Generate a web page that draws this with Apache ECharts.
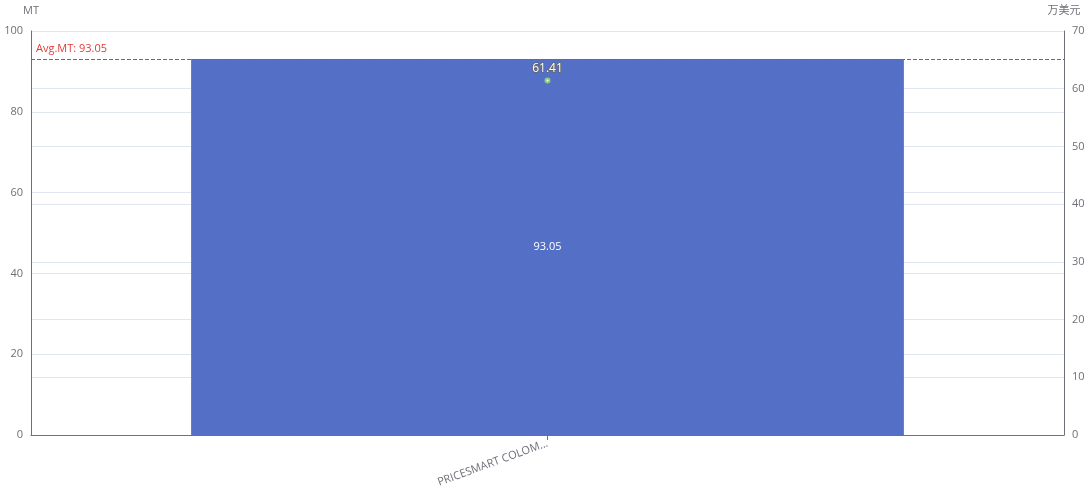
<!DOCTYPE html>
<html>
<head>
<meta charset="utf-8">
<script src="https://cdn.jsdelivr.net/npm/echarts@6/dist/echarts.min.js"></script>
<style>
  html, body { margin: 0; padding: 0; background: #fff; }
  #main { width: 1088px; height: 486px; }
</style>
</head>
<body>
<div id="main"></div>
<script>
// 数据
const categories = ['PRICESMART COLOMBIA SAS'];
const mtValues = [93.05];      // 重量 MT
const amountValues = [61.41];  // 金额 万美元

const chart = echarts.init(document.getElementById('main'));
const option = {
  textStyle: { fontFamily: '"Open Sans", "Noto Sans CJK SC", sans-serif' },
  grid: { left: 31, right: 24, top: 31, bottom: 51, outerBoundsMode: 'none' },
  xAxis: {
    type: 'category',
    data: categories,
    axisTick: { show: true, alignWithLabel: true },
    axisLine: { lineStyle: { color: '#6e7079' } },
    axisLabel: {
      rotate: 20,
      color: '#6e7079',
      width: 122,
      overflow: 'truncate',
      fontSize: 11
    }
  },
  yAxis: [{
    type: 'value',
    name: 'MT',
    min: 0, max: 100, interval: 20,
    nameTextStyle: { color: '#6e7079', fontSize: 11 },
    axisLine: { show: true, lineStyle: { color: '#6e7079' } },
    axisLabel: { color: '#6e7079', fontSize: 11 },
    splitLine: { lineStyle: { color: '#e0e6f1' } }
  }, {
    type: 'value',
    name: '万美元',
    min: 0, max: 70, interval: 10,
    nameTextStyle: { color: '#6e7079', fontSize: 11 },
    axisLine: { show: true, lineStyle: { color: '#6e7079' } },
    axisLabel: { color: '#6e7079', fontSize: 11 },
    splitLine: { lineStyle: { color: '#e0e6f1' } }
  }],
  series: [{
    name: 'MT',
    type: 'bar',
    barWidth: '69%',
    data: mtValues,
    itemStyle: { color: '#5470c6' },
    label: { show: true, position: 'inside', color: '#fff', fontSize: 11 },
    markLine: {
      symbol: 'none',
      data: [{ type: 'average', name: 'Avg' }],
      lineStyle: { color: '#e53935', type: 'dashed', width: 1 },
      label: {
        position: 'insideStartTop',
        color: '#e53935',
        fontSize: 11,
        formatter: p => 'Avg.MT: ' + p.value
      }
    }
  }, {
    name: '万美元',
    type: 'line',
    yAxisIndex: 1,
    data: amountValues,
    symbolSize: 4,
    itemStyle: { color: '#91cc75' },
    label: {
      show: true,
      position: 'top',
      distance: 3,
      color: '#fff',
      textBorderColor: '#666',
      textBorderWidth: 1.5,
      fontSize: 12
    }
  }]
};
chart.setOption(option);
</script>
</body>
</html>
